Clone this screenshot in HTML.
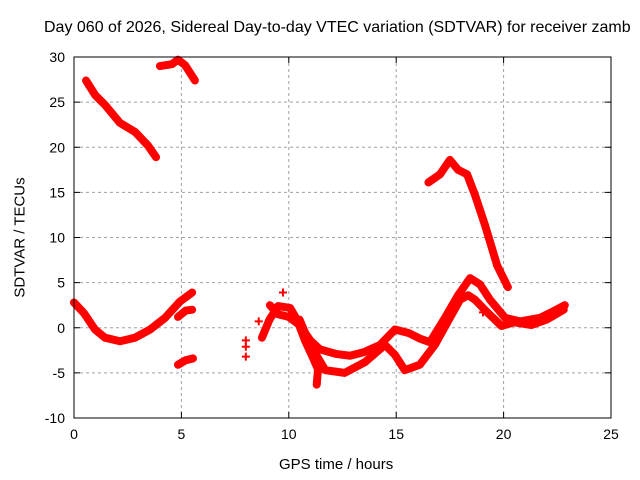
<!DOCTYPE html>
<html><head><meta charset="utf-8"><style>
body{margin:0;background:#fff}
svg{display:block;font-family:"Liberation Sans",sans-serif}
</style></head><body>
<svg id="c" width="640" height="480"></svg>
<script>
const xTicks=[0,5,10,15,20,25];
const yTicks=[-10,-5,0,5,10,15,20,25,30];
const trackA=[[0.56,27.4],[0.98,25.8],[1.44,24.7],[2.14,22.7],[2.84,21.7],[3.44,20.2],[3.82,18.9]];
const trackB=[[4.0,29.0],[4.56,29.2],[4.84,29.7],[5.17,29.1],[5.63,27.4]];
const trackC=[[0,2.8],[0.47,1.6],[0.98,-0.2],[1.44,-1.1],[2.14,-1.5],[2.84,-1.1],[3.54,-0.2],[4.24,1.1],[4.93,2.9],[5.5,3.9]];
const trackC2=[[4.84,1.2],[5.2,1.9],[5.5,2.0]];
const trackD=[[4.84,-4.1],[5.2,-3.6],[5.54,-3.4]];
const trackG=[[8.75,-1.1],[9.1,0.9],[9.5,2.4],[10.06,2.2],[10.4,0.8],[10.75,-1.4],[11.1,-3.2],[11.36,-4.6],[11.3,-6.3]];
const trackI=[[9.12,2.5],[9.5,1.5],[10.0,1.2],[10.5,0.3],[11.0,-1.4],[11.45,-2.4],[12.2,-2.9],[12.85,-3.1],[13.5,-2.7],[14.25,-1.9],[14.94,-0.2],[15.6,-0.6],[16.1,-1.2],[16.57,-1.6],[17.27,1.1],[17.88,3.6],[18.44,5.5],[18.9,4.8],[19.37,3.1],[20.07,1.1],[20.76,0.7],[21.7,1.1],[22.3,1.8],[22.85,2.5]];
const trackJ=[[10.5,0.9],[11.0,-1.9],[11.7,-4.7],[12.6,-5.0],[13.55,-3.8],[14.48,-1.9],[14.94,-3.0],[15.4,-4.7],[16.1,-4.1],[16.8,-1.9],[17.5,1.1],[17.97,3.1],[18.35,3.6],[18.67,3.1],[19.2,1.8],[19.9,0.2],[20.5,0.6],[21.3,0.3],[22.0,0.9],[22.8,2.0]];
const trackH=[[16.5,16.1],[17.04,17.0],[17.5,18.6],[17.88,17.5],[18.3,17.0],[18.67,14.7],[19.13,11.4],[19.7,6.9],[20.2,4.5]];
const dots=[[8.0,-1.4],[8.0,-2.1],[8.0,-3.2],[8.6,0.7],[9.73,3.9],[19.04,1.7]];
const tracks=[trackA,trackB,trackC,trackC2,trackD,trackG,trackI,trackJ,trackH];
const L=74,R=611,T=57,B=418;
const sx=v=>L+(v-0)/25*(R-L);
const sy=v=>B-(v+10)/40*(B-T);
const NS="http://www.w3.org/2000/svg";
const svg=document.getElementById('c');
function mk(t,a,p){const e=document.createElementNS(NS,t);for(const k in a)e.setAttribute(k,a[k]);(p||svg).appendChild(e);return e;}
xTicks.forEach(v=>{if(v>0&&v<25){const g=mk('line',{x1:sx(v),x2:sx(v),y1:T,y2:B,stroke:'#a0a0a0','stroke-dasharray':'3,3'});

}});
yTicks.forEach(v=>{if(v>-10&&v<30){const g=mk('line',{x1:L,x2:R,y1:sy(v),y2:sy(v),stroke:'#a0a0a0','stroke-dasharray':'3,3'});

}});
xTicks.forEach(v=>{mk('line',{x1:sx(v),x2:sx(v),y1:B,y2:B-6,stroke:'#000'});mk('line',{x1:sx(v),x2:sx(v),y1:T,y2:T+6,stroke:'#000'});
const t=mk('text',{x:sx(v),y:B+21,'text-anchor':'middle','font-size':14});t.textContent=v;

});
yTicks.forEach(v=>{mk('line',{x1:L,x2:L+6,y1:sy(v),y2:sy(v),stroke:'#000'});mk('line',{x1:R,x2:R-6,y1:sy(v),y2:sy(v),stroke:'#000'});
const t=mk('text',{x:L-9,y:sy(v)+5,'text-anchor':'end','font-size':14});t.textContent=v;

});
tracks.forEach(tr=>{const p=mk('polyline',{points:tr.map(d=>sx(d[0])+','+sy(d[1])).join(' '),fill:'none',stroke:'#ff0000','stroke-width':8,'stroke-linejoin':'round','stroke-linecap':'round'});

});
dots.forEach(d=>{const g=mk('path',{d:`M${sx(d[0])-4},${sy(d[1])}h8M${sx(d[0])},${sy(d[1])-4}v8`,stroke:'#ff0000','stroke-width':2});

});
const bx=mk('rect',{x:L,y:T,width:R-L,height:B-T,fill:'none',stroke:'#000'});


</script>
<div style="position:absolute;left:0;top:0;width:640px;height:480px;font-family:'Liberation Sans',sans-serif;pointer-events:none">
<div style="position:absolute;left:44px;top:19px;font-size:16px;white-space:nowrap">Day 060 of 2026, Sidereal Day-to-day VTEC variation (SDTVAR) for receiver zamb</div>
<div style="position:absolute;left:279px;top:456px;font-size:15px">GPS time / hours</div>
<div style="position:absolute;left:-60px;top:229px;width:160px;text-align:center;font-size:15px;transform:rotate(-90deg)">SDTVAR / TECUs</div>
</div>
</body></html>
